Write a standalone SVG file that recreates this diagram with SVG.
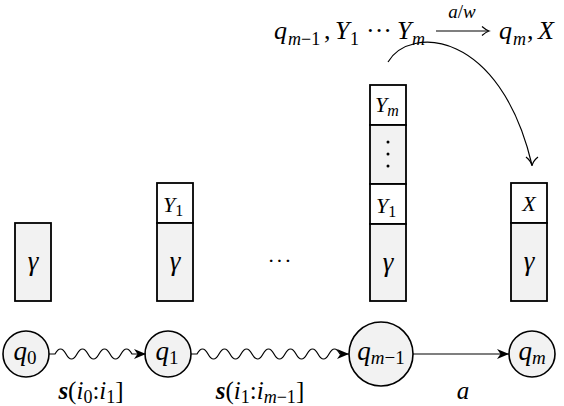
<svg xmlns="http://www.w3.org/2000/svg" width="564" height="406" viewBox="0 0 564 406">
<defs>
<marker id="ah" markerWidth="14" markerHeight="12" refX="12" refY="6" orient="auto" markerUnits="userSpaceOnUse">
<path d="M0,1 L12,6 L0,11 L3.5,6 Z" fill="#000"/>
</marker>
</defs>
<style>
text{font-family:"Liberation Serif","Times New Roman",serif;fill:#000}
.m{font-style:italic}
.u{font-style:normal}
.g{fill:#f2f2f2;stroke:#000;stroke-width:1.8}
.w{fill:#fff;stroke:#000;stroke-width:1.8}
.n{fill:#f2f2f2;stroke:#000;stroke-width:1.6}
.e{fill:none;stroke:#000;stroke-width:1.2}
.b{font-weight:bold}
</style>
<rect width="564" height="406" fill="#fff"/>

<g id="formula">
<text class="m" y="39" font-size="26"><tspan x="274">q</tspan><tspan x="288" y="45" font-size="18">m</tspan><tspan class="u" font-size="18">−1</tspan><tspan class="u" x="324" y="39">,</tspan><tspan x="335">Y</tspan><tspan class="u" x="350" y="45" font-size="18">1</tspan><tspan class="u" x="366" y="39">···</tspan><tspan x="397">Y</tspan><tspan x="412" y="45" font-size="18">m</tspan></text>
<text class="m" x="462" y="18" font-size="19" text-anchor="middle">a<tspan class="u">/</tspan>w</text>
<path class="e" d="M436 31 H488"/>
<path class="e" d="M482 26.5 Q486 30 489 31 Q486 32 482 35.5"/>
<text class="m" y="39" font-size="26"><tspan x="499">q</tspan><tspan x="513" y="45" font-size="18">m</tspan><tspan class="u" x="527" y="39">,</tspan><tspan x="538">X</tspan></text>
</g>

<g id="stack0">
<rect class="g" x="15" y="223" width="36" height="78"/>
<text class="m" x="33" y="270" font-size="27" text-anchor="middle">γ</text>
</g>

<g id="stack1">
<rect class="w" x="157" y="183" width="36" height="40"/>
<text class="m" x="173" y="212" font-size="22" text-anchor="middle">Y<tspan class="u" font-size="16" dy="4">1</tspan></text>
<rect class="g" x="157" y="223" width="36" height="78"/>
<text class="m" x="175" y="270" font-size="27" text-anchor="middle">γ</text>
</g>

<g id="dots">
<text class="u" x="280" y="268" font-size="22" text-anchor="middle" letter-spacing="1">···</text>
</g>

<g id="stack2">
<rect class="w" x="370" y="85" width="36" height="40"/>
<text class="m" x="387" y="112" font-size="22" text-anchor="middle">Y<tspan font-size="16" dy="4">m</tspan></text>
<rect class="g" x="370" y="125" width="36" height="59"/>
<circle cx="388" cy="142" r="1.5" fill="#000"/>
<circle cx="388" cy="154" r="1.5" fill="#000"/>
<circle cx="388" cy="166" r="1.5" fill="#000"/>
<rect class="w" x="370" y="184" width="36" height="40"/>
<text class="m" x="386" y="213" font-size="22" text-anchor="middle">Y<tspan class="u" font-size="16" dy="4">1</tspan></text>
<rect class="g" x="370" y="224" width="36" height="77"/>
<text class="m" x="388" y="271" font-size="27" text-anchor="middle">γ</text>
</g>

<g id="stack3">
<rect class="w" x="511" y="183" width="36" height="40"/>
<text class="m" x="529" y="211" font-size="22" text-anchor="middle">X</text>
<rect class="g" x="511" y="223" width="36" height="78"/>
<text class="m" x="529" y="270" font-size="27" text-anchor="middle">γ</text>
</g>

<g id="q0">
<circle class="n" cx="26" cy="354" r="23"/>
<text class="m" x="25" y="360" font-size="27" text-anchor="middle">q<tspan class="u" font-size="19" dy="4">0</tspan></text>
</g>
<g id="q1">
<circle class="n" cx="168" cy="354" r="23"/>
<text class="m" x="167" y="360" font-size="27" text-anchor="middle">q<tspan class="u" font-size="19" dy="4">1</tspan></text>
</g>
<g id="qm1">
<circle class="n" cx="381" cy="354" r="32"/>
<text class="m" x="381" y="360" font-size="27" text-anchor="middle">q<tspan font-size="19" dy="4">m</tspan><tspan class="u" font-size="19">−1</tspan></text>
</g>
<g id="qm">
<circle class="n" cx="532" cy="354" r="23"/>
<text class="m" x="532" y="360" font-size="27" text-anchor="middle">q<tspan font-size="19" dy="4">m</tspan></text>
</g>

<g id="connectors">
<path class="e" d="M49 354 H55 q5.5 -10 11 0 t11 0 t11 0 t11 0 t11 0 t11 0 t11 0 L146 354" marker-end="url(#ah)"/>
<path class="e" d="M191 354 H197 q5.5 -10 11 0 t11 0 t11 0 t11 0 t11 0 t11 0 t11 0 t11 0 t11 0 t11 0 t11 0 t11 0 t11 0 L349 354" marker-end="url(#ah)"/>
<path class="e" d="M413 354 H509" marker-end="url(#ah)"/>
<path class="e" d="M388 62 C410 25 500 30 532 165"/>
<path class="e" d="M526 157 Q531 161 532 166 Q533 161 538 157"/>
<text class="m" x="91" y="399" font-size="25" text-anchor="middle"><tspan class="b">s</tspan><tspan class="u">(</tspan>i<tspan class="u" font-size="18" dy="4">0</tspan><tspan class="u" dy="-4">:</tspan>i<tspan class="u" font-size="18" dy="4">1</tspan><tspan class="u" dy="-4">]</tspan></text>
<text class="m" x="260" y="399" font-size="25" text-anchor="middle"><tspan class="b">s</tspan><tspan class="u">(</tspan>i<tspan class="u" font-size="18" dy="4">1</tspan><tspan class="u" dy="-4">:</tspan>i<tspan font-size="18" dy="4">m</tspan><tspan class="u" font-size="18">−1</tspan><tspan class="u" dy="-4">]</tspan></text>
<text class="m" x="463" y="399" font-size="25" text-anchor="middle">a</text>
</g>
</svg>
